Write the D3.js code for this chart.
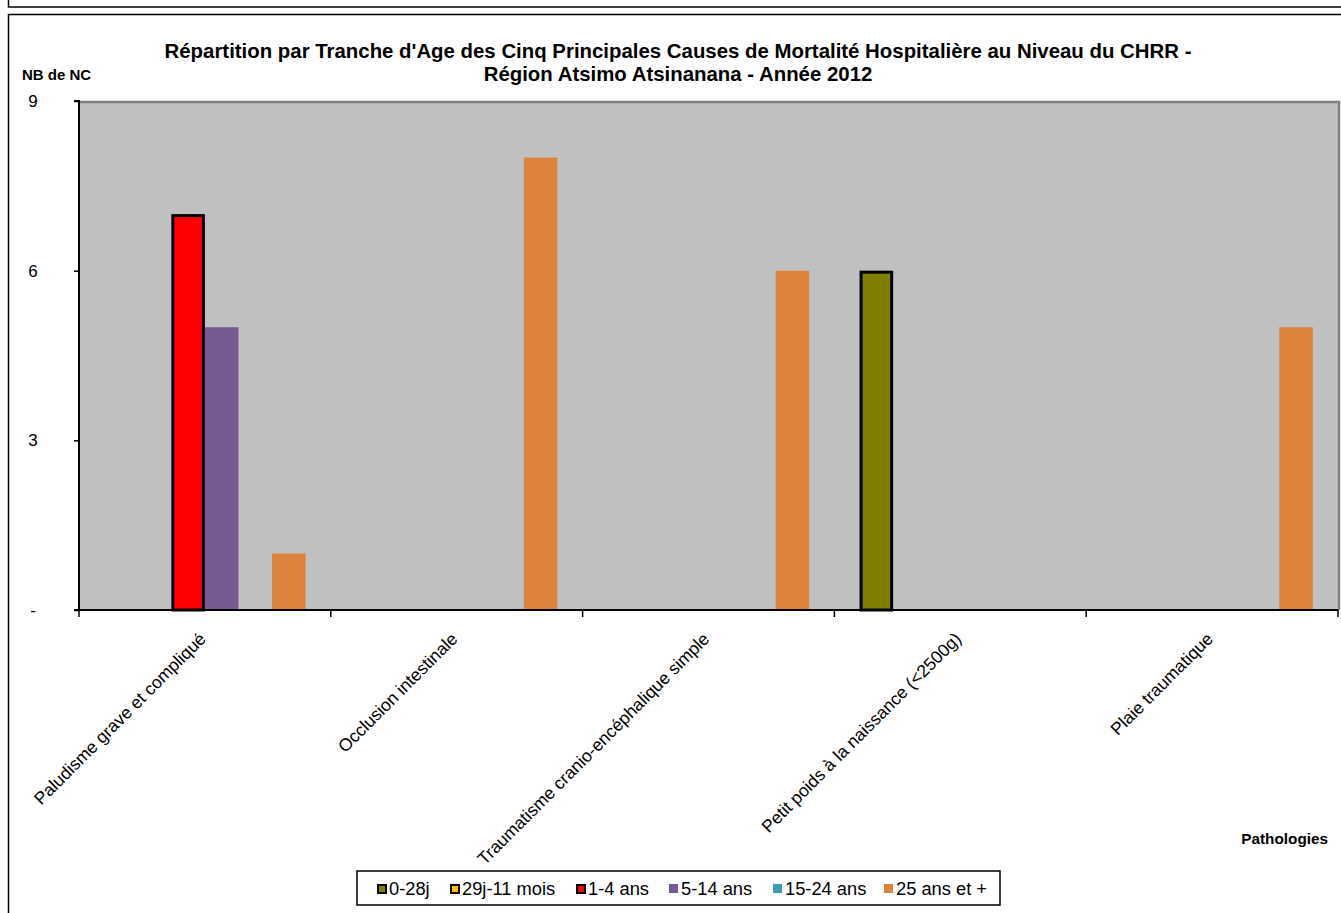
<!DOCTYPE html>
<html><head><meta charset="utf-8">
<script src="https://cdn.jsdelivr.net/npm/d3@7"></script>
<style>body{margin:0;background:#fff}svg{display:block;font-family:"Liberation Sans",Arial,sans-serif}</style>
</head><body>
<svg id="c" width="1341" height="913"></svg>
<script>
const categories = ["Paludisme grave et compliqué","Occlusion intestinale","Traumatisme cranio-encéphalique simple","Petit poids à la naissance (<2500g)","Plaie traumatique"];
const seriesNames = ["0-28j","29j-11 mois","1-4 ans","5-14 ans","15-24 ans","25 ans et +"];
const seriesColors = ["#808000","#FFC000","#FF0000","#765A94","#3C9DB5","#DC843E"];
const seriesBorder = [true,true,true,false,false,false];
const v_0_28j   = [0,0,0,6,0];
const v_29j_11m = [0,0,0,0,0];
const v_1_4     = [7,0,0,0,0];
const v_5_14    = [5,0,0,0,0];
const v_15_24   = [0,0,0,0,0];
const v_25plus  = [1,8,6,0,5];
const seriesValues = [v_0_28j,v_29j_11m,v_1_4,v_5_14,v_15_24,v_25plus];
const yTicks = [0,3,6,9];
const yTickLabels = ["-","3","6","9"];

const svg = d3.select("#c");
svg.append("rect").attr("x",8.5).attr("y",-20).attr("width",1400).attr("height",27).attr("fill","none").attr("stroke","#000").attr("stroke-width",1.5);
svg.append("rect").attr("x",8.5).attr("y",14.5).attr("width",1400).attr("height",1000).attr("fill","none").attr("stroke","#000").attr("stroke-width",1.5);

const L=79,R=1338,T=101,B=610;
const x = d3.scaleBand().domain(categories).range([L,R]).paddingInner(0).paddingOuter(0);
const y = d3.scaleLinear().domain([0,9]).range([B,T]);
const bw = x.bandwidth()/7.5;
const xs = d3.scaleBand().domain(seriesNames).range([bw*0.75, x.bandwidth()-bw*0.75]).padding(0);

svg.append("rect").attr("x",L).attr("y",T).attr("width",R-L).attr("height",B-T).attr("fill","#C0C0C0");
svg.append("path").attr("d",`M${L},${T+1}H${R+1}V${B}`).attr("fill","none").attr("stroke","#808080").attr("stroke-width",2.5);

seriesNames.forEach((s,si)=>{
  const g = svg.append("g");
  const b = seriesBorder[si];
  g.selectAll("rect").data(categories.map((c,i)=>({c,v:seriesValues[si][i]})).filter(d=>d.v>0))
   .join("rect")
   .attr("x",d=>x(d.c)+xs(s)+(b?1.5:0))
   .attr("y",d=>y(d.v)+(b?1.5:0))
   .attr("width",xs.bandwidth()-(b?3:0))
   .attr("height",d=>B-y(d.v)-(b?1.5:0))
   .attr("fill",seriesColors[si])
   .attr("stroke",b?"#000":"none")
   .attr("stroke-width",3);
});

const yAxis = d3.axisLeft(y).tickValues(yTicks).tickFormat((d,i)=>yTickLabels[i]).tickSize(5).tickPadding(41);
const gy = svg.append("g").attr("transform",`translate(${L},0)`).call(yAxis);
gy.select(".domain").attr("stroke","#000").attr("stroke-width",2).attr("d",`M-5,${T}H0V${B}H-5`);
gy.selectAll(".tick line").attr("stroke","#000").attr("stroke-width",1.5);
gy.selectAll("text").attr("font-size",17).attr("fill","#000").attr("font-family","Liberation Sans, Arial, sans-serif").attr("text-anchor","middle");

const bounds = categories.map(c=>x(c)).concat([R]);
svg.append("line").attr("x1",L-5).attr("x2",R).attr("y1",B).attr("y2",B).attr("stroke","#000").attr("stroke-width",2);
svg.selectAll(".xt").data(bounds).join("line").attr("x1",d=>d).attr("x2",d=>d).attr("y1",B).attr("y2",B+7).attr("stroke","#000").attr("stroke-width",1.5);

const gx = svg.append("g");
gx.selectAll("text").data(categories).join("text")
  .attr("transform",d=>`translate(${x(d)+x.bandwidth()/2+2},${B+30}) rotate(-45)`)
  .attr("text-anchor","end").attr("font-size",17.5).attr("fill","#000").text(d=>d);

svg.append("text").attr("x",678).attr("y",58).attr("text-anchor","middle").attr("font-weight","bold").attr("font-size",20.4).text("Répartition par Tranche d'Age des Cinq Principales Causes de Mortalité Hospitalière au Niveau du CHRR -");
svg.append("text").attr("x",678).attr("y",81).attr("text-anchor","middle").attr("font-weight","bold").attr("font-size",20.4).text("Région Atsimo Atsinanana - Année 2012");
svg.append("text").attr("x",22).attr("y",80).attr("font-weight","bold").attr("font-size",15).text("NB de NC");
svg.append("text").attr("x",1328).attr("y",844).attr("text-anchor","end").attr("font-weight","bold").attr("font-size",15.3).text("Pathologies");

svg.append("rect").attr("x",357).attr("y",871).attr("width",643).attr("height",34).attr("fill","#fff").attr("stroke","#000").attr("stroke-width",1.5);
const legX = [377,450,576,669,773,884];
seriesNames.forEach((s,i)=>{
  const b = seriesBorder[i];
  svg.append("rect").attr("x",legX[i]+(b?1:0)).attr("y",884+(b?1:0)).attr("width",b?8:9).attr("height",b?8:9)
    .attr("fill",seriesColors[i]).attr("stroke",b?"#000":"none").attr("stroke-width",2);
  svg.append("text").attr("x",legX[i]+12).attr("y",895).attr("font-size",18.3).text(s);
});
</script>
</body></html>
